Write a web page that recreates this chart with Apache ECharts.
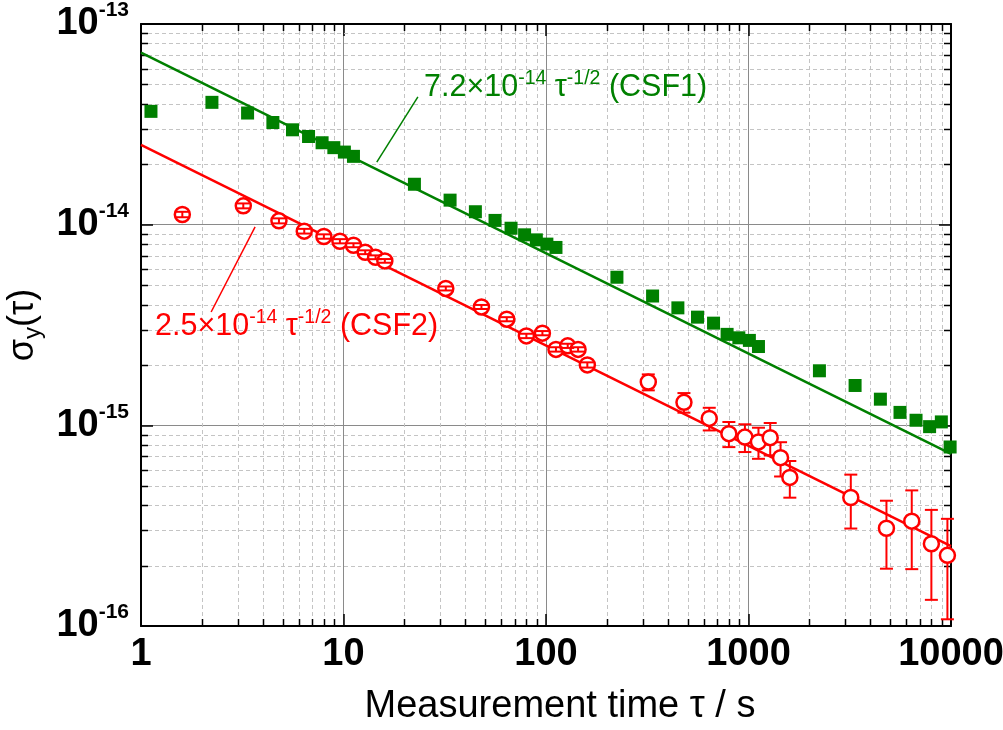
<!DOCTYPE html>
<html><head><meta charset="utf-8">
<script src="https://cdn.jsdelivr.net/npm/echarts@6/dist/echarts.min.js"></script>
<style>html,body{margin:0;padding:0;background:#fff}#c{width:1003px;height:730px}</style>
</head><body><div id="c"></div>
<script>
// ---- data ----
const xTickLabels = ['1', '10', '100', '1000', '10000'];
const minorX = [2,3,4,5,6,7,8,9,20,30,40,50,60,70,80,90,200,300,400,500,600,700,800,900,2000,3000,4000,5000,6000,7000,8000,9000];
const minorY = [2e-16,3e-16,4e-16,5e-16,6e-16,7e-16,8e-16,9e-16,2e-15,3e-15,4e-15,5e-15,6e-15,7e-15,8e-15,9e-15,2e-14,3e-14,4e-14,5e-14,6e-14,7e-14,8e-14,9e-14];

const csf1Tau = [1.12, 2.24, 3.36, 4.48, 5.6, 6.72, 7.84, 8.96, 10.1, 11.2, 22.4, 33.6, 44.8, 56, 67.2, 78.4, 89.6, 101, 112, 224, 336, 448, 560, 672, 784, 896, 1010, 1120, 2240, 3360, 4480, 5600, 6720, 7840, 8960, 9900];
const csf1Sigma = [3.67e-14, 4.07e-14, 3.60e-14, 3.23e-14, 2.97e-14, 2.75e-14, 2.56e-14, 2.42e-14, 2.30e-14, 2.19e-14, 1.59e-14, 1.325e-14, 1.16e-14, 1.05e-14, 9.6e-15, 8.9e-15, 8.4e-15, 8.0e-15, 7.7e-15, 5.47e-15, 4.41e-15, 3.85e-15, 3.46e-15, 3.23e-15, 2.84e-15, 2.73e-15, 2.65e-15, 2.47e-15, 1.87e-15, 1.58e-15, 1.35e-15, 1.16e-15, 1.06e-15, 9.85e-16, 1.04e-15, 7.8e-16];

const csf2Tau = [1.6, 3.2, 4.8, 6.4, 8.0, 9.6, 11.2, 12.8, 14.4, 16.0, 32, 48, 64, 80, 96, 112, 128, 144, 160, 320, 480, 640, 800, 960, 1120, 1280, 1440, 1600, 3200, 4800, 6400, 8000, 9600];
const csf2Sigma = [1.124e-14, 1.241e-14, 1.045e-14, 9.28e-15, 8.73e-15, 8.27e-15, 7.90e-15, 7.29e-15, 6.88e-15, 6.60e-15, 4.81e-15, 3.89e-15, 3.38e-15, 2.79e-15, 2.88e-15, 2.39e-15, 2.49e-15, 2.39e-15, 2.00e-15, 1.644e-15, 1.302e-15, 1.083e-15, 9.09e-16, 8.74e-16, 8.27e-16, 8.68e-16, 6.90e-16, 5.50e-16, 4.37e-16, 3.07e-16, 3.33e-16, 2.57e-16, 2.25e-16];
const csf2Err = [3.5e-16, 3.5e-16, 3.0e-16, 2.5e-16, 2.2e-16, 2.0e-16, 1.8e-16, 1.6e-16, 1.5e-16, 1.4e-16, 1.1e-16, 0.9e-16, 0.8e-16, 0.7e-16, 0.7e-16, 0.6e-16, 0.6e-16, 0.6e-16, 0.6e-16, 1.5e-16, 1.46e-16, 1.40e-16, 1.30e-16, 1.38e-16, 1.46e-16, 1.59e-16, 1.34e-16, 1.14e-16, 1.31e-16, 1.14e-16, 1.41e-16, 1.22e-16, 1.17e-16];

const fit1 = [[1, 7.2e-14], [10000, 7.2e-16]];
const fit2 = [[1, 2.5e-14], [10000, 2.5e-16]];
const leader1 = [[14.6, 2.05e-14], [23.3, 4.33e-14]];
const leader2 = [[3.66, 9.75e-15], [2.22, 3.67e-15]];

// ---- styling ----
const GREEN = '#008000', RED = '#ff0000';
const FONT = 'Liberation Sans, Arial, sans-serif';

const chart = echarts.init(document.getElementById('c'), null, {renderer: 'canvas'});

function px(v) { return Math.round(v) + 0.5; }

function renderMinorX(params, api) {
  const cs = params.coordSys;
  const x = px(api.coord([api.value(0), 1e-15])[0]);
  const top = cs.y, bot = cs.y + cs.height;
  return {type: 'group', children: [
    {type: 'line', shape: {x1: x, y1: top, x2: x, y2: bot}, style: {stroke: '#c4c4c4', lineWidth: 1, lineDash: [4, 3]}},
    {type: 'line', shape: {x1: x, y1: bot, x2: x, y2: bot - 7}, style: {stroke: '#000', lineWidth: 1.5}},
    {type: 'line', shape: {x1: x, y1: top, x2: x, y2: top + 7}, style: {stroke: '#000', lineWidth: 1.5}}
  ]};
}
function renderMinorY(params, api) {
  const cs = params.coordSys;
  const y = px(api.coord([10, api.value(1)])[1]);
  const l = cs.x, r = cs.x + cs.width;
  return {type: 'group', children: [
    {type: 'line', shape: {x1: l, y1: y, x2: r, y2: y}, style: {stroke: '#c4c4c4', lineWidth: 1, lineDash: [4, 3]}},
    {type: 'line', shape: {x1: l, y1: y, x2: l + 7, y2: y}, style: {stroke: '#000', lineWidth: 1.5}},
    {type: 'line', shape: {x1: r, y1: y, x2: r - 7, y2: y}, style: {stroke: '#000', lineWidth: 1.5}}
  ]};
}
function renderErr(params, api) {
  const x = api.value(0), s = api.value(1), e = api.value(2);
  const p1 = api.coord([x, s + e]);
  const p2 = api.coord([x, s - e]);
  const cx = p1[0], w = 6.5;
  const st = {stroke: RED, lineWidth: 2};
  return {type: 'group', children: [
    {type: 'line', shape: {x1: cx, y1: p1[1], x2: cx, y2: p2[1]}, style: st},
    {type: 'line', shape: {x1: cx - w, y1: p1[1], x2: cx + w, y2: p1[1]}, style: st},
    {type: 'line', shape: {x1: cx - w, y1: p2[1], x2: cx + w, y2: p2[1]}, style: st}
  ]};
}

const csf1Data = csf1Tau.map((t, i) => [t, csf1Sigma[i]]);
const csf2Data = csf2Tau.map((t, i) => [t, csf2Sigma[i]]);
const errAll = csf2Tau.map((t, i) => [t, csf2Sigma[i], csf2Err[i]]);
const errInside = errAll.filter(d => d[2] / d[1] < 0.06);
const errOutside = errAll.filter(d => d[2] / d[1] >= 0.06);

const yRich = {
  b: {fontSize: 38, fontWeight: 'bold', fontFamily: FONT, color: '#000', lineHeight: 48},
  s: {fontSize: 21, fontWeight: 'bold', fontFamily: FONT, color: '#000', verticalAlign: 'top'}
};

const axisCommonX = {
  type: 'log', logBase: 10, min: 1, max: 10000,
  axisLine: {show: true, onZero: false, lineStyle: {color: '#000', width: 2}},
  axisTick: {show: true, inside: true, length: 12, lineStyle: {color: '#000', width: 1.5}},
  minorTick: {show: false}, minorSplitLine: {show: false}
};
const axisCommonY = {
  type: 'log', logBase: 10, min: 1e-16, max: 1e-13,
  axisLine: {show: true, onZero: false, lineStyle: {color: '#000', width: 2}},
  axisTick: {show: true, inside: true, length: 12, lineStyle: {color: '#000', width: 1.5}},
  minorTick: {show: false}, minorSplitLine: {show: false}
};

const option = {
  backgroundColor: '#fff',
  animation: false,
  grid: {left: 141, right: 52, top: 24, bottom: 104, containLabel: false, outerBoundsMode: 'none'},
  xAxis: [
    Object.assign({}, axisCommonX, {
      position: 'bottom',
      name: 'Measurement time τ / s', nameLocation: 'middle', nameGap: 62,
      nameTextStyle: {fontSize: 38, fontFamily: FONT, color: '#000', padding: [0, 0, 0, 28]},
      axisLabel: {show: true, margin: 10, fontSize: 38, fontWeight: 'bold', fontFamily: FONT, color: '#000',
        formatter: v => { const i = Math.round(Math.log10(v)); return xTickLabels[i] || ''; }},
      splitLine: {show: true, lineStyle: {color: '#8a8a8a', width: 1}}
    }),
    Object.assign({}, axisCommonX, {position: 'top', axisLabel: {show: false}, splitLine: {show: false}})
  ],
  yAxis: [
    Object.assign({}, axisCommonY, {
      position: 'left',
      name: '{a|σ}{sub|y}{a|(τ)}', nameLocation: 'middle', nameGap: 88, nameRotate: 90,
      nameTextStyle: {rich: {
        a: {fontSize: 36, fontFamily: FONT, color: '#000', lineHeight: 44},
        sub: {fontSize: 24, fontFamily: FONT, color: '#000', verticalAlign: 'bottom'}
      }},
      axisLabel: {show: true, margin: 12, formatter: v => '{b|10}{s|' + Math.round(Math.log10(v)) + '}', rich: yRich},
      splitLine: {show: true, lineStyle: {color: '#8a8a8a', width: 1}}
    }),
    Object.assign({}, axisCommonY, {position: 'right', axisLabel: {show: false}, splitLine: {show: false}})
  ],
  series: [
    {type: 'custom', name: 'minorX', renderItem: renderMinorX, data: minorX.map(v => [v, 1e-15]), z: 1, silent: true},
    {type: 'custom', name: 'minorY', renderItem: renderMinorY, data: minorY.map(v => [10, v]), z: 1, silent: true},
    {type: 'line', name: 'fit CSF1', data: fit1, showSymbol: false, symbol: 'none', lineStyle: {color: GREEN, width: 2.5}, z: 3,
      markLine: {silent: true, symbol: 'none', label: {show: false}, lineStyle: {color: GREEN, width: 1.5, type: 'solid'},
        data: [[{coord: leader1[0]}, {coord: leader1[1]}]]}},
    {type: 'line', name: 'fit CSF2', data: fit2, showSymbol: false, symbol: 'none', lineStyle: {color: RED, width: 2.5}, z: 3,
      markLine: {silent: true, symbol: 'none', label: {show: false}, lineStyle: {color: RED, width: 1.5, type: 'solid'},
        data: [[{coord: leader2[0]}, {coord: leader2[1]}]]}},
    {type: 'scatter', name: 'CSF1', data: csf1Data, symbol: 'rect', symbolSize: 13, itemStyle: {color: GREEN, opacity: 1}, z: 4},
    {type: 'custom', name: 'errOut', renderItem: renderErr, data: errOutside, z: 4},
    {type: 'scatter', name: 'CSF2', data: csf2Data, symbol: 'circle', symbolSize: 15, itemStyle: {color: '#fff', borderColor: RED, borderWidth: 2.5, opacity: 1}, z: 5},
    {type: 'custom', name: 'errIn', renderItem: renderErr, data: errInside, z: 6}
  ],
  graphic: [
    {type: 'text', left: 424, top: 69, z: 10, style: {
      text: '{b|7.2×10}{s|-14}{b| τ}{s|-1/2}{b| (CSF1)}',
      rich: {b: {fontSize: 30.5, fontFamily: FONT, fill: GREEN, lineHeight: 38}, s: {fontSize: 19.5, fontFamily: FONT, fill: GREEN, verticalAlign: 'top'}}
    }},
    {type: 'text', left: 155, top: 308, z: 10, style: {
      text: '{b|2.5×10}{s|-14}{b| τ}{s|-1/2}{b| (CSF2)}',
      rich: {b: {fontSize: 30.5, fontFamily: FONT, fill: RED, lineHeight: 38}, s: {fontSize: 19.5, fontFamily: FONT, fill: RED, verticalAlign: 'top'}}
    }}
  ]
};
chart.setOption(option);
</script>
</body></html>
